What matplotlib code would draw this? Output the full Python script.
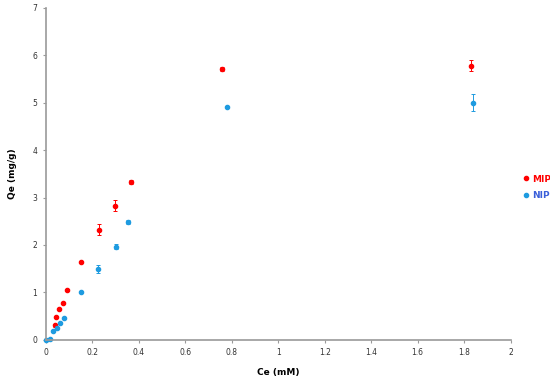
import numpy as np
import matplotlib.pyplot as plt
from matplotlib.lines import Line2D

# MIP data
mip_ce = [0.039, 0.043, 0.057, 0.074, 0.093, 0.152, 0.231, 0.298, 0.368, 0.758, 1.829]
mip_qe = [0.30, 0.47, 0.64, 0.78, 1.04, 1.64, 2.32, 2.83, 3.33, 5.71, 5.78]
mip_err = [0.03, 0.02, 0.02, 0.02, 0.02, 0.02, 0.12, 0.12, 0.04, 0.04, 0.12]

# NIP data
nip_ce = [0.0, 0.02, 0.031, 0.047, 0.06, 0.08, 0.152, 0.226, 0.301, 0.355, 0.78, 1.838]
nip_qe = [0.0, 0.01, 0.18, 0.25, 0.35, 0.45, 1.01, 1.49, 1.96, 2.48, 4.92, 5.00]
nip_err = [0.0, 0.0, 0.02, 0.02, 0.02, 0.02, 0.02, 0.08, 0.05, 0.04, 0.02, 0.18]

red = '#ff0000'
blue = '#1e9be0'

fig = plt.figure(figsize=(5.5, 3.79), dpi=100)
ax = fig.add_axes([0.083, 0.1037, 0.8455, 0.8752])

ax.errorbar(mip_ce, mip_qe, yerr=mip_err, fmt='o', color=red, ms=3,
            elinewidth=0.7, capsize=1.5, capthick=0.7, clip_on=False)
ax.errorbar(nip_ce, nip_qe, yerr=nip_err, fmt='o', color=blue, ms=3,
            elinewidth=0.7, capsize=1.5, capthick=0.7, clip_on=False)

ax.set_xlim(0, 2)
ax.set_ylim(0, 7)
ax.set_xticks(np.arange(0, 2.01, 0.2))
ax.set_xticklabels(['0', '0.2', '0.4', '0.6', '0.8', '1', '1.2', '1.4', '1.6', '1.8', '2'])
ax.set_yticks(range(0, 8))

for s in ['top', 'right']:
    ax.spines[s].set_visible(False)
for s in ['left', 'bottom']:
    ax.spines[s].set_color('#9a9a9a')
    ax.spines[s].set_linewidth(1.2)
ax.tick_params(colors='#333333', labelsize=5.5, length=2.5, width=0.8)
ax.tick_params(axis='both', color='#9a9a9a')

ax.set_xlabel('Ce (mM)', fontsize=6.5, fontweight='bold', labelpad=8)
ax.set_ylabel('Qe (mg/g)', fontsize=6.5, fontweight='bold', labelpad=11)

handles = [Line2D([], [], marker='o', ls='', color=red, ms=3),
           Line2D([], [], marker='o', ls='', color=blue, ms=3)]
leg = ax.legend(handles, ['MIP', 'NIP'], loc='center left',
                bbox_to_anchor=(1.005, 0.46), frameon=False,
                fontsize=6.5, handletextpad=0.2, handlelength=1.0,
                labelspacing=0.8)
for txt, c in zip(leg.get_texts(), [red, '#3a5fd9']):
    txt.set_color(c)
    txt.set_fontweight('bold')

plt.savefig('out.png', dpi=100)
